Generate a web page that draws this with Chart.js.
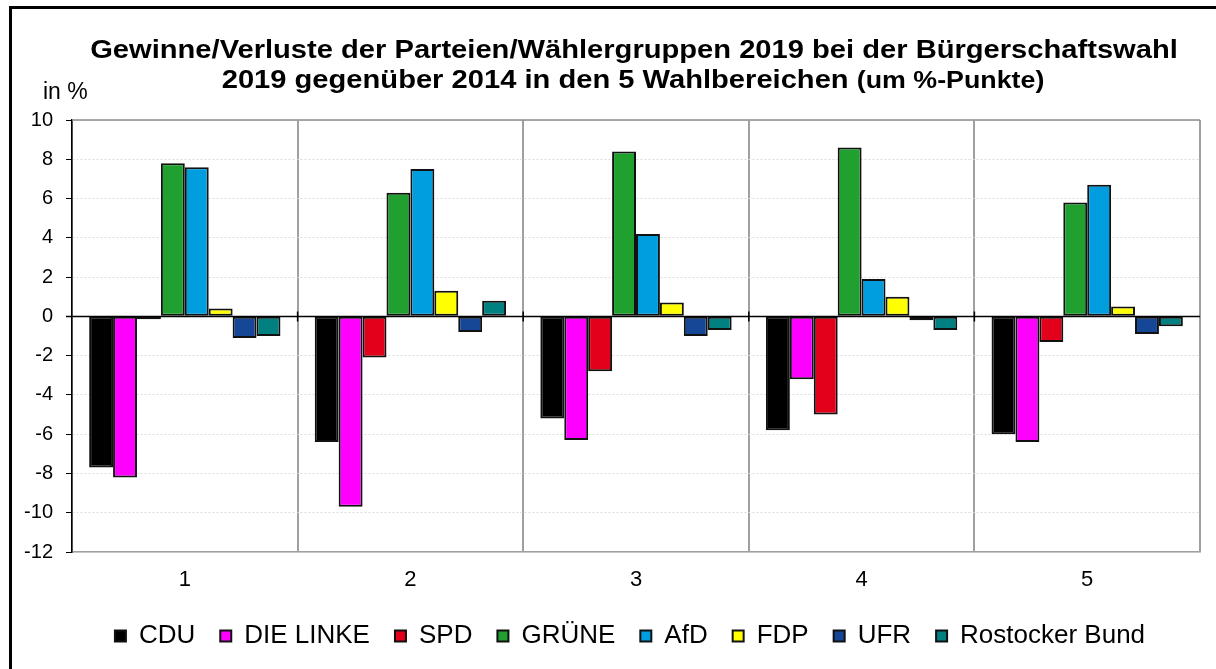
<!DOCTYPE html>
<html lang="de">
<head>
    <meta charset="UTF-8">
    <title>Gewinne/Verluste Bürgerschaftswahl 2019</title>
    <script src="https://cdn.jsdelivr.net/npm/chart.js"></script>
    <style>
        body { margin: 0; background: #fff; }
        .chart-container { width: 1216px; height: 669px; position: relative; }
    </style>
</head>
<body>
    <div class="chart-container">
        <canvas id="wahlChart"></canvas>
    </div>

    <script>
        // Wahlbereiche
        const bereiche = ['1', '2', '3', '4', '5'];

        // Gewinne/Verluste in %-Punkten je Partei (Wahlbereich 1..5)
        const cdu      = [-7.7, -6.4, -5.2, -5.8, -6.0];
        const linke    = [-8.2, -9.7, -6.3, -3.2, -6.4];
        const spd      = [-0.15, -2.1, -2.8, -5.0, -1.3];
        const gruene   = [7.8, 6.3, 8.4, 8.6, 5.8];
        const afd      = [7.6, 7.5, 4.2, 1.9, 6.7];
        const fdp      = [0.4, 1.3, 0.7, 1.0, 0.5];
        const ufr      = [-1.1, -0.8, -1.0, -0.2, -0.9];
        const rostockerBund = [-1.0, 0.8, -0.7, -0.7, -0.5];

        const yTicks = [10, 8, 6, 4, 2, 0, -2, -4, -6, -8, -10, -12];

        const FONT = '"Liberation Sans", Arial, sans-serif';

        function bar(label, data, color) {
            return {
                label: label,
                data: data,
                backgroundColor: color,
                borderColor: '#111',
                borderWidth: 2,
                borderSkipped: false
            };
        }

        // text slightly stretched horizontally, like the original export
        function stretchedText(ctx, text, x, y, sx) {
            ctx.save();
            ctx.translate(x, y);
            ctx.scale(sx, 1);
            ctx.fillText(text, 0, 0);
            ctx.restore();
        }

        // Titel, Rahmen, Nulllinie
        const decorPlugin = {
            id: 'decor',
            afterLayout(chart) {
                // legend sits a bit right of the canvas centre
                chart.legend.left += 30;
                chart.legend.right += 30;
            },
            beforeDraw(chart) {
                const ctx = chart.ctx;
                const sx = 1.165;
                ctx.save();
                ctx.fillStyle = '#000';
                ctx.fillRect(9, 6, 3, 669);
                ctx.fillRect(9, 6, 1216, 3);

                ctx.textBaseline = 'middle';
                ctx.font = 'bold 25px ' + FONT;
                ctx.textAlign = 'center';
                stretchedText(ctx, 'Gewinne/Verluste der Parteien/Wählergruppen 2019 bei der Bürgerschaftswahl', 634, 51, sx);

                const a = '2019 gegenüber 2014 in den 5 Wahlbereichen ';
                const b = '(um %-Punkte)';
                ctx.font = 'bold 25px ' + FONT;
                const wa = ctx.measureText(a).width * sx;
                ctx.font = 'bold 23px ' + FONT;
                const wb = ctx.measureText(b).width * sx;
                const x0 = 633 - (wa + wb) / 2;
                ctx.textAlign = 'left';
                ctx.font = 'bold 25px ' + FONT;
                stretchedText(ctx, a, x0, 81, sx);
                ctx.font = 'bold 23px ' + FONT;
                stretchedText(ctx, b, x0 + wa, 82, sx);

                ctx.font = '23px ' + FONT;
                ctx.fillText('in %', 43, 93);
                ctx.restore();
            },
            afterDatasetsDraw(chart) {
                const ctx = chart.ctx;
                const area = chart.chartArea;
                const y = chart.scales.y;
                const y0 = Math.round(y.getPixelForValue(0)) + 0.5;
                ctx.save();
                ctx.strokeStyle = '#8c8c8c';
                ctx.lineWidth = 1.5;
                ctx.beginPath();
                ctx.moveTo(area.left, area.top);
                ctx.lineTo(area.right, area.top);
                ctx.stroke();

                ctx.strokeStyle = '#000';
                ctx.lineWidth = 1.5;
                ctx.beginPath();
                ctx.moveTo(area.left - 6, y0);
                ctx.lineTo(area.right, y0);
                const step = (area.right - area.left) / bereiche.length;
                for (let i = 1; i < bereiche.length; i++) {
                    const sx = area.left + step * i;
                    ctx.moveTo(sx, y0 - 5);
                    ctx.lineTo(sx, y0 + 5);
                }
                ctx.stroke();
                ctx.restore();
            }
        };

        const ctx = document.getElementById('wahlChart').getContext('2d');
        new Chart(ctx, {
            type: 'bar',
            data: {
                labels: bereiche,
                datasets: [
                    bar('CDU', cdu, '#000000'),
                    bar('DIE LINKE', linke, '#ff00ff'),
                    bar('SPD', spd, '#e2001a'),
                    bar('GRÜNE', gruene, '#20a12f'),
                    bar('AfD', afd, '#009ddf'),
                    bar('FDP', fdp, '#ffff00'),
                    bar('UFR', ufr, '#164796'),
                    bar('Rostocker Bund', rostockerBund, '#008080')
                ]
            },
            options: {
                responsive: true,
                maintainAspectRatio: false,
                animation: false,
                layout: { padding: { top: 120, left: 0, right: 16, bottom: 11 } },
                datasets: {
                    bar: { categoryPercentage: 0.848, barPercentage: 1.0 }
                },
                scales: {
                    x: {
                        afterFit(scale) { scale.height = 46; },
                        grid: { color: '#a0a0a0', lineWidth: 2, drawTicks: false },
                        border: { color: '#a0a0a0', width: 1.5 },
                        ticks: { color: '#000', padding: 15, font: { family: FONT, size: 22 } }
                    },
                    y: {
                        min: -12,
                        max: 10,
                        afterFit(scale) { scale.width = 72; },
                        afterBuildTicks(scale) {
                            scale.ticks = yTicks.map(v => ({ value: v }));
                        },
                        grid: { color: '#dcdcdc', lineWidth: 1, tickLength: 6, tickColor: '#000', tickWidth: 1 },
                        border: { color: '#000', width: 1.5, dash: [2, 2] },
                        ticks: { color: '#000', padding: 13, font: { family: FONT, size: 20 } }
                    }
                },
                plugins: {
                    legend: {
                        position: 'bottom',
                        maxHeight: 60,
                        labels: {
                            color: '#000',
                            boxWidth: 11,
                            boxHeight: 11,
                            padding: 25,
                            font: { family: FONT, size: 26 }
                        }
                    },
                    tooltip: { enabled: false }
                }
            },
            plugins: [decorPlugin]
        });
    </script>
</body>
</html>
